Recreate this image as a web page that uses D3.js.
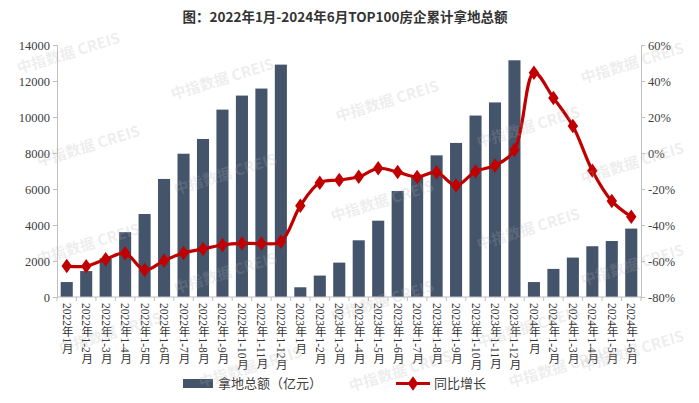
<!DOCTYPE html>
<html>
<head>
<meta charset="utf-8">
<script src="https://cdn.jsdelivr.net/npm/d3@7"></script>
<style>
  body { margin: 0; background: #fff; }
  svg { display: block; }
</style>
</head>
<body>
<div id="plot"></div>
<script>
// 2022.1 - 2024.6 TOP100 land acquisition, cumulative by month
const categories = [
    '2022年1月', '2022年1-2月', '2022年1-3月', '2022年1-4月', '2022年1-5月', '2022年1-6月',
    '2022年1-7月', '2022年1-8月', '2022年1-9月', '2022年1-10月', '2022年1-11月', '2022年1-12月',
    '2023年1月', '2023年1-2月', '2023年1-3月', '2023年1-4月', '2023年1-5月', '2023年1-6月',
    '2023年1-7月', '2023年1-8月', '2023年1-9月', '2023年1-10月', '2023年1-11月', '2023年1-12月',
    '2024年1月', '2024年1-2月', '2024年1-3月', '2024年1-4月', '2024年1-5月', '2024年1-6月'
];
const landAmount = [
    830, 1440, 2150, 3600, 4610, 6560, 7960, 8780, 10410, 11190, 11580, 12910,
    540, 1190, 1910, 3150, 4240, 5890, 6750, 7870, 8560, 10080, 10810, 13150,
    830, 1560, 2190, 2820, 3110, 3800
];
const yoyGrowth = [
    -62.8, -62.9, -59, -55.7, -65, -59.8, -55.6, -53.3, -51.1, -50.2, -50.3, -49.3,
    -29.3, -16.5, -15, -13.2, -8.5, -10.6, -13.3, -10.7, -18.1, -10.2, -6.9, 1.7,
    44.6, 30.6, 15, -9.8, -26.7, -35.4
];
const leftTicks = [0, 2000, 4000, 6000, 8000, 10000, 12000, 14000];
const rightTicks = [-80, -60, -40, -20, 0, 20, 40, 60];
const watermarks = [
    [68, 52], [222, 78], [387, 100], [528, 126], [632, 62],
    [88, 145], [225, 173], [382, 200], [528, 228], [632, 162],
    [88, 243], [225, 272], [382, 300], [528, 326], [632, 264],
    [110, 332], [250, 366], [400, 370], [560, 366], [632, 350]
];

const W = 699, H = 403;
const margin = {left: 57, right: 58, top: 45, bottom: 106};
const numFont = '"Liberation Serif", "Times New Roman", serif';
const cjkFont = '"Liberation Serif", "Noto Sans CJK SC", serif';

const svg = d3.select('#plot').append('svg')
    .attr('width', W)
    .attr('height', H);

svg.append('text')
    .attr('x', 345)
    .attr('y', 22)
    .attr('text-anchor', 'middle')
    .attr('font-family', '"Noto Sans CJK SC", sans-serif')
    .attr('font-size', '13.5px')
    .attr('font-weight', 'bold')
    .attr('fill', '#333')
    .text('图：2022年1月-2024年6月TOP100房企累计拿地总额');

const x = d3.scaleBand()
    .domain(categories)
    .range([margin.left, W - margin.right])
    .paddingInner(0.38)
    .paddingOuter(0.19);

const yL = d3.scaleLinear().domain([0, 14000]).range([H - margin.bottom, margin.top]);
const yR = d3.scaleLinear().domain([-80, 60]).range([H - margin.bottom, margin.top]);

// bars
svg.append('g')
    .selectAll('rect')
    .data(landAmount)
    .enter()
    .append('rect')
    .attr('x', (d, i) => x(categories[i]))
    .attr('y', d => yL(d))
    .attr('width', x.bandwidth())
    .attr('height', d => yL(0) - yL(d))
    .attr('fill', '#44546a');

// left axis
const axisL = svg.append('g')
    .attr('transform', `translate(${margin.left},0)`)
    .call(d3.axisLeft(yL).tickValues(leftTicks).tickSize(4).tickPadding(3).tickFormat(d3.format('d')));

// right axis
const axisR = svg.append('g')
    .attr('transform', `translate(${W - margin.right},0)`)
    .call(d3.axisRight(yR).tickValues(rightTicks).tickSize(4).tickPadding(3).tickFormat(d => d + '%'));

[axisL, axisR].forEach(ax => {
    ax.select('.domain').attr('stroke', '#bfbfbf');
    ax.selectAll('.tick line').attr('stroke', '#bfbfbf');
    ax.selectAll('.tick text')
        .attr('font-family', numFont)
        .attr('font-size', '12.5px')
        .attr('fill', '#404040');
});

// bottom axis: ticks between categories
const step = x.step();
const xAxisG = svg.append('g');
xAxisG.append('line')
    .attr('x1', margin.left).attr('x2', W - margin.right)
    .attr('y1', yL(0)).attr('y2', yL(0))
    .attr('stroke', '#bfbfbf');
xAxisG.selectAll('.sep')
    .data(d3.range(categories.length + 1))
    .enter()
    .append('line')
    .attr('x1', i => margin.left + i * step)
    .attr('x2', i => margin.left + i * step)
    .attr('y1', yL(0))
    .attr('y2', yL(0) + 4)
    .attr('stroke', '#bfbfbf');

xAxisG.selectAll('.xlab')
    .data(categories)
    .enter()
    .append('text')
    .attr('x', d => x(d) + x.bandwidth() / 2)
    .attr('y', yL(0) + 6)
    .attr('font-family', cjkFont)
    .attr('font-size', '11.5px')
    .attr('fill', '#333')
    .style('writing-mode', 'vertical-rl')
    .attr('dominant-baseline', 'central')
    .text(d => d);

// growth line
const line = d3.line()
    .x((d, i) => x(categories[i]) + x.bandwidth() / 2)
    .y(d => yR(d))
    .curve(d3.curveCatmullRom.alpha(0.5));

svg.append('path')
    .datum(yoyGrowth)
    .attr('d', line)
    .attr('fill', 'none')
    .attr('stroke', '#c00000')
    .attr('stroke-width', 3.2);

const diamond = d3.symbol().type(d3.symbolDiamond).size(60);
svg.append('g')
    .selectAll('path')
    .data(yoyGrowth)
    .enter()
    .append('path')
    .attr('d', diamond)
    .attr('transform', (d, i) => `translate(${x(categories[i]) + x.bandwidth() / 2},${yR(d)}) scale(1.25,1)`)
    .attr('fill', '#c00000');

// legend
const legend = svg.append('g').attr('font-family', cjkFont).attr('font-size', '13px').attr('fill', '#404040');
legend.append('rect').attr('x', 183).attr('y', 379).attr('width', 30).attr('height', 9).attr('fill', '#44546a');
legend.append('text').attr('x', 218).attr('y', 388).text('拿地总额（亿元）');
legend.append('line').attr('x1', 396).attr('x2', 430).attr('y1', 383.5).attr('y2', 383.5)
    .attr('stroke', '#c00000').attr('stroke-width', 3.2);
legend.append('path').attr('d', diamond).attr('transform', 'translate(413,383.5) scale(1.25,1)').attr('fill', '#c00000');
legend.append('text').attr('x', 434).attr('y', 388).text('同比增长');

// watermark
svg.append('g')
    .selectAll('text')
    .data(watermarks)
    .enter()
    .append('text')
    .attr('transform', d => `translate(${d[0]},${d[1]}) rotate(-17)`)
    .attr('text-anchor', 'middle')
    .attr('dominant-baseline', 'central')
    .attr('font-family', '"Noto Sans CJK SC", sans-serif')
    .attr('font-size', '15px')
    .attr('font-weight', 'bold')
    .attr('fill', '#b0b0b0')
    .attr('fill-opacity', 0.22)
    .text('中指数据 CREIS');
</script>
</body>
</html>
